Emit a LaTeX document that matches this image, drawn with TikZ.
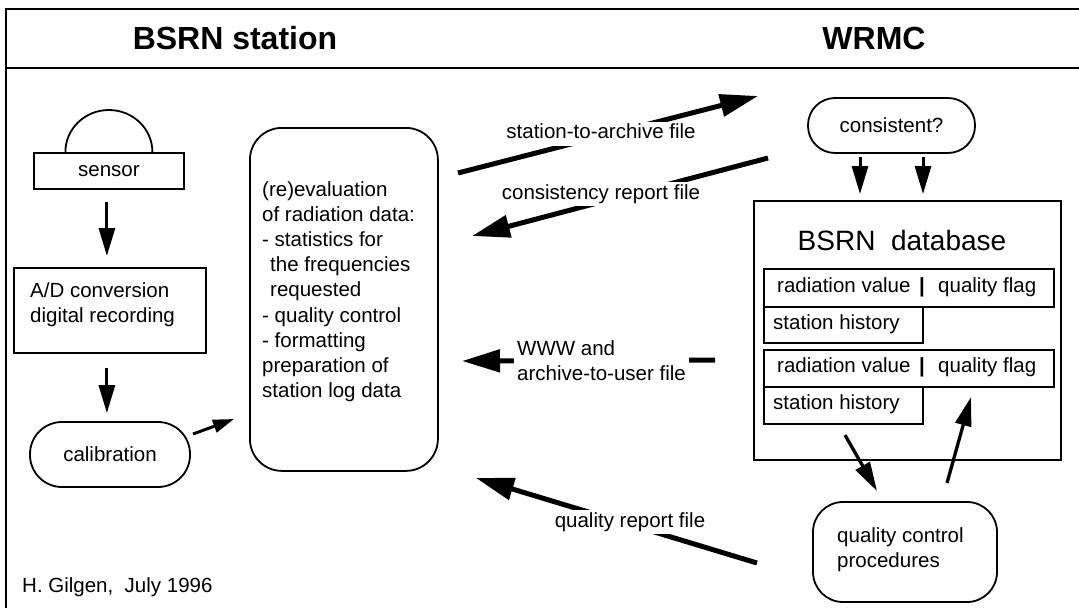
\documentclass[tikz,border=0pt]{standalone}
\usepackage{fontspec}
\setmainfont{Liberation Sans}
\usetikzlibrary{arrows.meta,calc}
\begin{document}
\begin{tikzpicture}[x=1pt,y=-1pt,
  every node/.style={inner sep=0pt, font=\fontsize{20.5}{25.2}\selectfont},
  frame/.style={line width=2.4pt},
  box/.style={draw, line width=1.8pt, anchor=north west},
  rtxt/.style={anchor=west, text height=15pt, text depth=4.3pt},
  thinarr/.style={line width=3pt, -{Triangle[length=28pt,width=16pt]}},
  smallarr/.style={line width=3pt, -{Triangle[length=21pt,width=13pt]}},
  fatarr/.style={line width=5pt, -{Triangle[length=38pt,width=22pt]}},
  medarr/.style={line width=3.3pt, -{Triangle[length=29pt,width=16pt]}},
  lbl/.style={fill=white, inner xsep=3pt, inner ysep=2pt, text height=15pt, text depth=5pt},
  hdr/.style={font=\bfseries\fontsize{32}{36}\selectfont}
]
\useasboundingbox (0,0) rectangle (1079,608);
\fill[white] (0,0) rectangle (1079,608);

% frame and header
\draw[frame] (1079,9) -- (6,9) -- (6,608);
\draw[frame] (6,68) -- (1079,68);
\node[hdr] (hl) at (235,38) {BSRN station};
\node[hdr] (hr) at (874,38) {WRMC};

% BSRN station side
\node[box, minimum width=150pt, minimum height=36pt] (sensor) at (33,152) {sensor};
\draw[line width=1.8pt] ($(sensor.north)+(-43.5,0)$) arc[start angle=180, end angle=0, x radius=43.5pt, y radius=42pt];

\node[box, minimum width=192pt, minimum height=85pt] (ad) at (13,267) {};
\node[anchor=west, align=left] (adtxt) at (30,304.5) {A/D conversion\\digital recording};

\node[draw, line width=1.8pt, rounded corners=32pt, minimum width=160pt, minimum height=65pt] (calib) at (110,454.5) {calibration};

\node[box, rounded corners=32pt, minimum width=188pt, minimum height=343pt] (eval) at (249,127) {};
\node[anchor=west, align=left] (evaltxt) at (262,291.5) {(re)evaluation\\of radiation data:\\- statistics for\\\hspace*{8pt}the frequencies\\\hspace*{8pt}requested\\- quality control\\- formatting\\preparation of\\station log data};

\node[anchor=west] (sig) at (22,587) {H. Gilgen,\ \ July 1996};

% WRMC side
\node[draw, line width=1.8pt, rounded corners=27pt, minimum width=167pt, minimum height=55pt] (cons) at (891.5,125.5) {consistent?};

\node[box, minimum width=307pt, minimum height=259pt] (db) at (753,200) {};
\node[font=\fontsize{28}{32}\selectfont] (dbtitle) at (902,240) {BSRN\ \ database};

\node[box, minimum width=290pt, minimum height=38pt] (r1) at (763,268) {};
\node[rtxt] (r1a) at (777,287) {radiation value};
\node[rtxt] (r1b) at (919,287) {\bfseries |};
\node[rtxt] (r1c) at (938,287) {quality flag};
\node[box, minimum width=159pt, minimum height=36pt] (s1) at (763,306) {};
\node[rtxt] (s1t) at (773,324) {station history};

\node[box, minimum width=290pt, minimum height=37pt] (r2) at (763,349) {};
\node[rtxt] (r2a) at (777,367.5) {radiation value};
\node[rtxt] (r2b) at (919,367.5) {\bfseries |};
\node[rtxt] (r2c) at (938,367.5) {quality flag};
\node[box, minimum width=159pt, minimum height=37pt] (s2) at (763,386) {};
\node[rtxt] (s2t) at (773,404.5) {station history};

\node[draw, line width=1.8pt, rounded corners=30pt, minimum width=184pt, minimum height=100pt] (qc) at (905,552) {};
\node[anchor=west, align=left] (qctxt) at (837,549.5) {quality control\\procedures};

% connectors inside station
\draw[thinarr] ($(sensor.south)+(-2,12)$) -- ($(sensor.south |- ad.north)+(-2,-11)$);
\draw[thinarr] ($(ad.south)+(-3,14)$) -- ($(ad.south |- calib.north)+(-3,-8)$);
\coordinate (ca1) at (193,434);
\coordinate (ca2) at (234,419);
\draw[smallarr] (ca1) -- (ca2);

% WRMC internal arrows
\coordinate (cd1) at (860,157);
\coordinate (cd2) at (923,157);
\draw[thinarr] (cd1) -- ($(cd1 |- db.north)+(0,-6)$);
\draw[thinarr] (cd2) -- ($(cd2 |- db.north)+(0,-6)$);
\coordinate (dq1) at (845,435);
\coordinate (dq2) at (877,491);
\draw[medarr] (dq1) -- (dq2);
\coordinate (qd1) at (947,483);
\coordinate (qd2) at (971,397);
\draw[medarr] (qd1) -- (qd2);

% file transfer arrows
\coordinate (sa1) at (458,173);
\coordinate (sa2) at (758,96);
\draw[fatarr] (sa1) -- (sa2);
\node[lbl] (salbl) at (601,133.5) {station-to-archive file};

\coordinate (cr1) at (768,158);
\coordinate (cr2) at (472,236);
\draw[fatarr] (cr1) -- (cr2);
\node[lbl] (crlbl) at (601,194.3) {consistency report file};

\coordinate (ww1) at (715,360);
\coordinate (ww2) at (462,361);
\draw[fatarr] (ww1) -- (ww2);
\node[anchor=west, align=left, fill=white, inner xsep=3pt, inner ysep=2pt] (wwlbl) at (514,360.5) {WWW and\\archive-to-user file};

\coordinate (qr1) at (757,563);
\coordinate (qr2) at (476,478);
\draw[fatarr] (qr1) -- (qr2);
\node[lbl] (qrlbl) at (630,522.3) {quality report file};
\end{tikzpicture}
\end{document}
